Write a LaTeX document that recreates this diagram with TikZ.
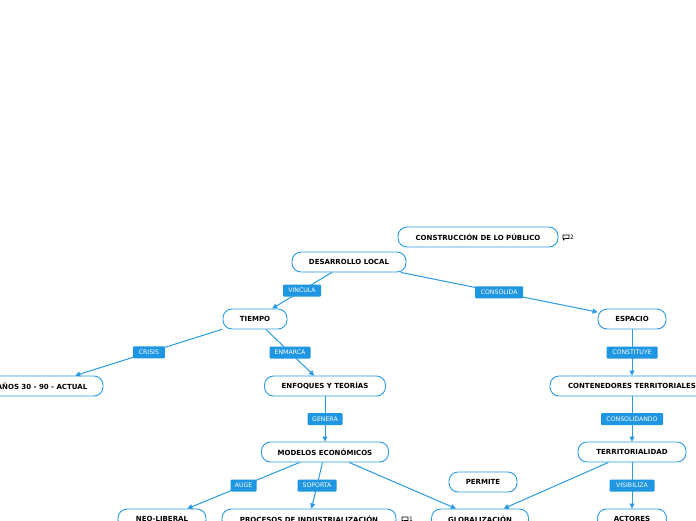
\documentclass[tikz,border=0pt]{standalone}
\usepackage{fontspec}
\setmainfont{DejaVu Sans}
\usetikzlibrary{arrows.meta,calc}
\definecolor{lineblue}{RGB}{40,155,226}
\definecolor{lblblue}{RGB}{30,150,226}
\tikzset{
  box/.style={draw=lineblue, line width=0.9pt, rounded corners=9pt, fill=white,
    minimum height=20pt, inner sep=0pt, font=\fontsize{7}{8}\selectfont\bfseries, text=black},
  lbl/.style={fill=lblblue, text=white, rounded corners=1pt, inner sep=0pt,
    minimum height=12pt, font=\fontsize{6.2}{7}\selectfont, text depth=0pt},
  conn/.style={draw=lineblue, line width=1pt, -{Triangle[length=5pt,width=5pt]}},
  cmt/.style={font=\fontsize{6}{7}\selectfont, text=black, inner sep=0pt}
}
\begin{document}
\begin{tikzpicture}[x=1pt,y=-1pt]
\useasboundingbox (0,0) rectangle (696,520);
\clip (0,0) rectangle (696,520);
\fill[white] (0,0) rectangle (696,520);

\node[box, minimum width=160pt] (cons) at (478,237) {CONSTRUCCIÓN DE LO PÚBLICO};
\node[box, minimum width=114pt] (dl) at (349,262) {DESARROLLO LOCAL};
\node[box, minimum width=64pt] (tiempo) at (255,319) {TIEMPO};
\node[box, minimum width=122pt] (anos) at (42,386) {AÑOS 30 - 90 - ACTUAL};
\node[box, minimum width=121pt] (enf) at (325,386) {ENFOQUES Y TEORÍAS};
\node[box, minimum width=68pt] (esp) at (632,319) {ESPACIO};
\node[box, minimum width=164pt] (cont) at (632,386) {CONTENEDORES TERRITORIALES};
\node[box, minimum width=127pt] (mod) at (325,452) {MODELOS ECONÓMICOS};
\node[box, minimum width=108pt] (terr) at (632,452) {TERRITORIALIDAD};
\node[box, minimum width=68pt] (perm) at (483,482) {PERMITE};
\node[box, minimum width=88pt] (neo) at (162,519) {NEO-LIBERAL};
\node[box, minimum width=174pt] (proc) at (309,519) {PROCESOS DE INDUSTRIALIZACIÓN};
\node[box, minimum width=97pt] (glob) at (480,519) {GLOBALIZACIÓN};
\node[box, minimum width=69pt] (act) at (632,519) {ACTORES};

% comment markers
\coordinate (c2) at (563,237);
\draw[black, line width=0.6pt] ($(c2)+(0,-2)$) -- ++(6,0) -- ++(0,3.5) -- ++(-4,0) -- ++(-1.5,1.5) -- ++(0,-1.5) -- ++(-0.5,0) -- cycle;
\node[cmt, anchor=west] (c2t) at (570,237.5) {2};
\coordinate (c1) at (402,519);
\draw[black, line width=0.6pt] ($(c1)+(0,-2)$) -- ++(6,0) -- ++(0,3.5) -- ++(-4,0) -- ++(-1.5,1.5) -- ++(0,-1.5) -- ++(-0.5,0) -- cycle;
\node[cmt, anchor=west] (c1t) at (409,519.5) {1};

% connectors
\draw[conn] (dl) -- node[lbl, minimum width=38pt] (l1) {VINCULA} (tiempo);
\draw[conn] (dl) -- node[lbl, minimum width=48pt] (l2) {CONSOLIDA} (esp);
\draw[conn] (tiempo) -- node[lbl, minimum width=32pt] (l3) {CRISIS} (anos);
\draw[conn] (tiempo) -- node[lbl, minimum width=41pt] (l4) {ENMARCA} (enf);
\draw[conn] (enf) -- node[lbl, minimum width=35pt] (l5) {GENERA} (mod);
\draw[conn] (esp) -- node[lbl, minimum width=51pt] (l6) {CONSTITUYE} (cont);
\draw[conn] (cont) -- node[lbl, minimum width=62pt] (l7) {CONSOLIDANDO} (terr);
\draw[conn] (mod) -- node[lbl, minimum width=26pt] (l8) {AUGE} (neo);
\draw[conn] (mod) -- node[lbl, minimum width=39pt] (l9) {SOPORTA} (proc);
\draw[conn] (mod) -- (glob);
\draw[conn] (terr) -- (glob);
\draw[conn] (terr) -- node[lbl, minimum width=45pt] (l10) {VISIBILIZA} (act);
\end{tikzpicture}
\end{document}
